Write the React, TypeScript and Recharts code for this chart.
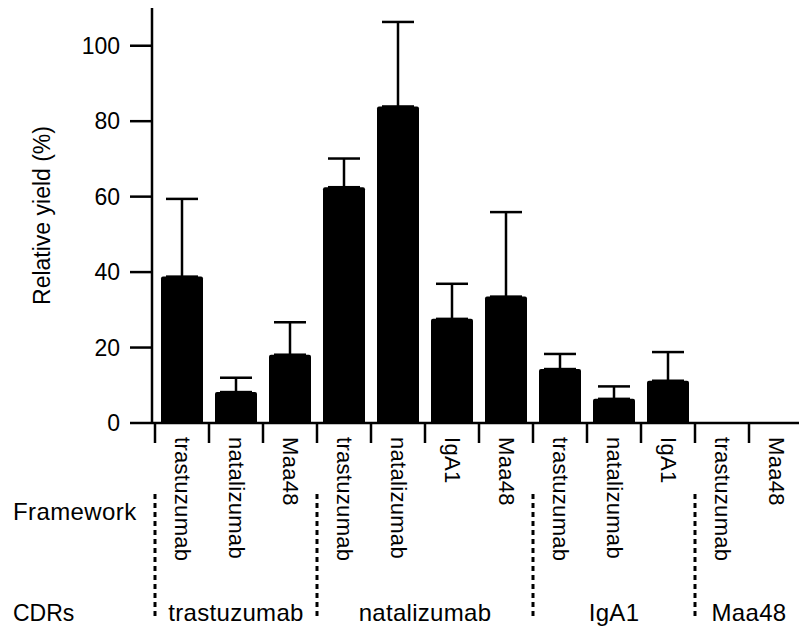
import React from 'react';
import { BarChart, Bar, XAxis, YAxis, ErrorBar } from 'recharts';

const frameworks = ['trastuzumab', 'natalizumab', 'Maa48', 'trastuzumab', 'natalizumab', 'IgA1', 'Maa48', 'trastuzumab', 'natalizumab', 'IgA1', 'trastuzumab', 'Maa48'];
const cdrs = ['trastuzumab', 'trastuzumab', 'trastuzumab', 'natalizumab', 'natalizumab', 'natalizumab', 'natalizumab', 'IgA1', 'IgA1', 'IgA1', 'Maa48', 'Maa48'];
const yields = [38.8, 8.2, 18.1, 62.5, 83.9, 27.6, 33.5, 14.3, 6.4, 11.2, 0, 0];
const errUp = [20.6, 3.8, 8.6, 7.6, 22.4, 9.3, 22.4, 4.0, 3.3, 7.6, 0, 0];
const yTicks = [0, 20, 40, 60, 80, 100];
const rowLabels = ['Framework', 'CDRs'];

const data = frameworks.map((f, i) => ({
  id: `b${i}`,
  framework: f,
  cdr: cdrs[i],
  value: yields[i],
  err: [0, errUp[i]],
}));

const FONT = '"Liberation Sans", Arial, Helvetica, sans-serif';

const XTick = (props: any) => {
  const { x, y, payload, index } = props;
  const i = payload?.index ?? index;
  const half = payload?.offset ?? 27;
  const bw = half * 2;
  const left = x - half;
  const isStart = i === 0 || cdrs[i] !== cdrs[i - 1];
  let groupCount = 0;
  if (isStart) {
    let j = i;
    while (j < cdrs.length && cdrs[j] === cdrs[i]) { groupCount++; j++; }
  }
  return (
    <g>
      <line x1={left} x2={left} y1={y} y2={y + 20} stroke="#000" strokeWidth={2.5} />
      <text
        x={x}
        y={y + 14}
        transform={`rotate(90, ${x}, ${y + 14})`}
        textAnchor="start"
        dominantBaseline="central"
        fontSize={22}
        letterSpacing={0.3}
        fill="#000"
        fontFamily={FONT}
      >
        {frameworks[i]}
      </text>
      {isStart && (
        <line x1={left} x2={left} y1={y + 71} y2={y + 197} stroke="#000" strokeWidth={3} strokeDasharray="5 4" />
      )}
      {isStart && (
        <text x={left + (groupCount * bw) / 2} y={y + 198} textAnchor="middle" fontSize={24} letterSpacing={0.3} fill="#000" fontFamily={FONT}>
          {cdrs[i]}
        </text>
      )}
      {i === 0 && (
        <g>
          <text x={13} y={y + 97} fontSize={24} letterSpacing={0.4} fill="#000" fontFamily={FONT}>{rowLabels[0]}</text>
          <text x={13} y={y + 198} fontSize={23} fill="#000" fontFamily={FONT}>{rowLabels[1]}</text>
        </g>
      )}
    </g>
  );
};

const YTitle = (props: any) => {
  const vb = props.viewBox || { x: 0, y: 8, width: 152, height: 415 };
  const cy = vb.y + vb.height / 2;
  const cx = 42;
  return (
    <text
      x={cx}
      y={cy}
      transform={`rotate(-90, ${cx}, ${cy})`}
      textAnchor="middle"
      dominantBaseline="central"
      fontSize={23}
      fill="#000"
      fontFamily={FONT}
    >
      Relative yield (%)
    </text>
  );
};

export default function App() {
  return (
    <div style={{ position: 'absolute', left: 0, top: 0, width: 799, height: 628, overflow: 'hidden', background: '#fff' }}>
      <BarChart
        width={803}
        height={628}
        data={data}
        margin={{ top: 8, right: 0, bottom: 0, left: 0 }}
        style={{ fontFamily: FONT }}
      >
        <XAxis
          dataKey="id"
          type="category"
          height={205}
          interval={0}
          padding={{ left: 3, right: 0 }}
          axisLine={{ stroke: '#000', strokeWidth: 2.5 }}
          tickLine={false}
          tickSize={0}
          tickMargin={0}
          tick={<XTick />}
        />
        <YAxis
          type="number"
          domain={[0, 110]}
          ticks={yTicks}
          width={152}
          interval={0}
          axisLine={{ stroke: '#000', strokeWidth: 2.5 }}
          tickLine={{ stroke: '#000', strokeWidth: 2.5 }}
          tickSize={22}
          tickMargin={10}
          tick={{ fontSize: 23, fill: '#000', fontFamily: FONT }}
          label={<YTitle />}
        />
        <Bar dataKey="value" fill="#000" barSize={42} radius={[2, 2, 0, 0]} isAnimationActive={false}>
          <ErrorBar dataKey="err" width={16} strokeWidth={2.5} stroke="#000" direction="y" isAnimationActive={false} />
        </Bar>
      </BarChart>
    </div>
  );
}
